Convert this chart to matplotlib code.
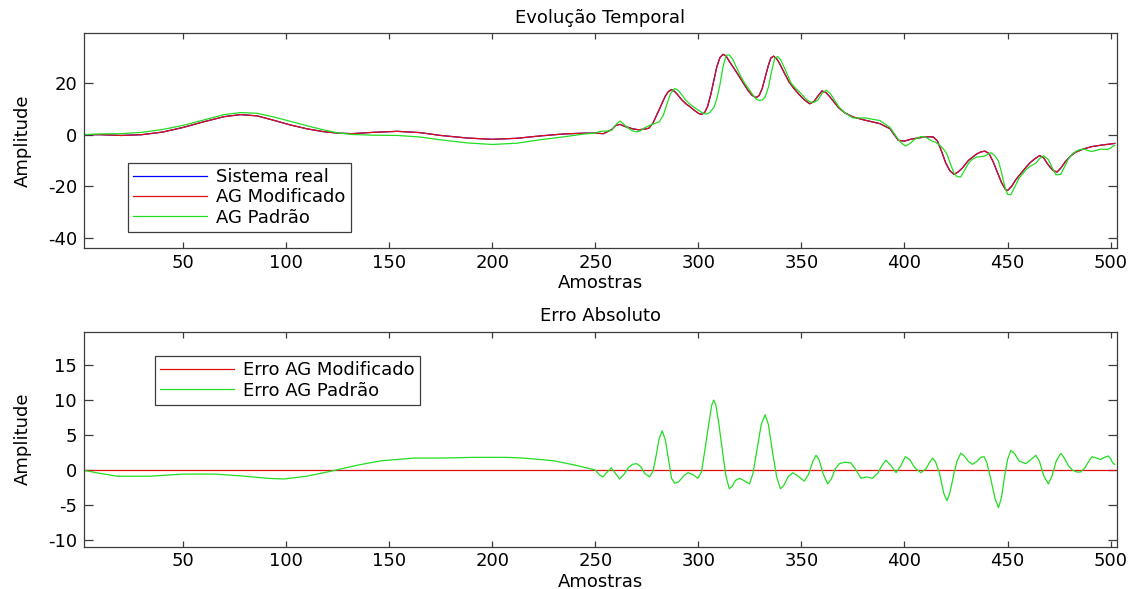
import matplotlib
matplotlib.use('Agg')
import matplotlib.pyplot as plt

# --- data: (amostra, amplitude) --------------------------------------------
sistema_real_pts = [
    (1, 0), (10, 0), (20, -0.3), (30, 0), (40, 1.0), (50, 2.8), (60, 5.0), (70, 7.0),
    (78, 7.8), (86, 7.3), (94, 5.6), (102, 3.8), (110, 2.3), (118, 1.2), (125, 0.6),
    (132, 0.4), (142, 0.9), (154, 1.3), (165, 0.8), (175, -0.3), (188, -1.3), (200, -1.8),
    (212, -1.4), (223, -0.5), (235, 0.3), (245, 0.6), (250, 0.6), (252, 0.5), (254, 0.4),
    (256, 1.2), (258, 2.0), (260, 3.6), (262, 4.0), (264, 3.3), (266, 2.8), (268, 2.3),
    (271, 1.9), (274, 2.2), (276, 2.5), (278, 4.5), (280, 8.0), (282, 11.5), (284, 15.0),
    (285.5, 16.8), (287, 17.5), (288.5, 16.8), (290, 15.5), (292, 13.5), (294, 12.0),
    (296, 10.8), (298, 9.5), (300, 8.3), (301.5, 7.9), (303, 8.5), (304.5, 11.0),
    (306, 15.5), (307.5, 21.0), (309, 26.5), (310.5, 30.0), (312, 31.2), (313.5, 30.5),
    (315, 28.5), (317.5, 25.5), (320, 22.4), (322, 19.8), (324, 17.3), (326, 15.3),
    (328, 14.4), (329.5, 15.2), (331, 18.0), (332.5, 22.5), (334, 27.0), (335.2, 29.8),
    (336.5, 30.5), (338, 29.5), (339.5, 27.5), (342, 23.5), (344, 20.5), (346.5, 17.8),
    (349, 15.5), (351.5, 13.5), (354, 12.0), (356, 12.8), (358, 15.0), (360, 17.0),
    (362, 16.3), (364, 14.5), (366, 12.5), (368, 10.5), (371, 8.5), (375, 6.9),
    (381, 5.6), (388, 4.3), (393, 2.3), (395, 0.0), (397, -2.2), (400, -2.5), (402, -2.0),
    (404, -1.6), (409, -1.0), (412, -0.8), (414, -0.9), (416, -2.5), (418, -6.5),
    (420, -11.0), (422, -14.0), (424, -15.4), (426, -14.5), (428, -13.0), (431, -10.0),
    (435, -7.5), (437, -6.7), (439, -6.4), (441, -7.3), (443, -10.5), (445, -14.5),
    (447, -18.5), (449, -21.3), (450, -21.7), (452, -20.0), (454, -17.5), (456.5, -15.0),
    (459, -12.6), (461, -10.8), (463, -9.5), (465.5, -8.1), (467.5, -9.0), (469.5, -11.5),
    (472, -13.9), (474, -14.5), (476, -12.8), (478, -10.5), (480.5, -8.3), (483, -6.8),
    (487, -5.5), (491, -4.6), (496, -4.0), (501, -3.5), (502, -3.4),
]

ag_padrao_pts = [
    (1, 0), (10, 0.3), (20, 0.4), (30, 0.9), (40, 2.0), (50, 3.6), (60, 5.7), (70, 7.8),
    (78, 8.6), (86, 8.3), (94, 6.9), (102, 5.2), (110, 3.5), (118, 1.9), (125, 0.7),
    (132, 0.1), (142, -0.2), (154, -0.3), (165, -0.9), (175, -2.0), (188, -3.2),
    (200, -3.8), (212, -3.3), (223, -2.0), (235, -0.8), (245, 0.3), (250, 0.6), (252, 1.2),
    (254, 1.4), (256, 1.4), (258, 1.7), (260, 3.9), (262, 5.3), (264, 3.9), (266, 2.5),
    (268, 1.5), (270, 1.1), (272, 1.5), (274, 2.7), (276.4, 3.6), (279, 4.4), (281, 5.0),
    (283, 7.5), (285, 12.5), (286.5, 16.0), (288.5, 17.9), (290, 17.4), (292, 15.5),
    (294, 13.3), (296, 11.8), (298, 10.6), (300, 9.5), (302, 8.5), (304, 8.0),
    (305.5, 8.6), (307.5, 10.5), (309, 14.0), (310.5, 19.5), (312, 26.5), (313.5, 30.9),
    (315, 31.0), (316.5, 29.5), (318, 27.0), (320, 23.6), (322, 20.6), (324, 18.3),
    (326, 16.0), (328, 13.8), (329.6, 13.3), (331, 13.5), (332.4, 14.6), (334, 18.5),
    (335.5, 24.5), (337, 29.5), (338.5, 30.4), (340, 29.0), (342, 25.5), (345, 20.0),
    (347.5, 17.8), (350, 15.8), (352, 14.0), (354, 12.8), (356, 12.5), (358, 13.5),
    (360, 16.0), (362, 17.3), (364, 16.0), (366, 13.5), (368, 11.0), (371, 8.5),
    (375, 6.5), (381, 6.5), (388, 5.5), (393, 2.8), (396, -0.7), (398, -2.9),
    (400.4, -4.4), (402.5, -3.5), (405, -1.8), (408, -0.7), (410.5, -1.1), (413.6, -2.6),
    (415, -2.9), (417, -4.0), (419, -5.7), (420.6, -7.6), (422, -10.7), (424, -14.9),
    (425.5, -16.3), (427.3, -16.4), (429, -14.0), (431, -11.2), (433, -9.5), (435, -8.7),
    (437, -8.5), (438.6, -8.4), (440, -7.8), (442, -7.0), (444, -8.3), (445.6, -10.3),
    (447, -14.5), (448.5, -19.8), (450, -23.2), (451.6, -23.3), (453.5, -20.3),
    (455.5, -17.0), (458.8, -13.7), (461, -12.2), (463.7, -11.1), (465.5, -9.3),
    (467.5, -8.2), (469.8, -9.7), (471.5, -12.6), (473.5, -15.6), (475.8, -15.4),
    (477.5, -12.7), (479.5, -9.4), (481.4, -7.5), (483.5, -6.3), (485.4, -5.7),
    (487.5, -5.7), (489.5, -6.3), (491, -6.5), (493, -6.1), (495.2, -5.6), (497, -5.7),
    (498.8, -5.7), (500, -5.2), (501, -4.5), (502, -4.2),
]

erro_padrao_pts = [
    (1, 0), (8, -0.4), (18, -0.9), (34, -0.9), (50, -0.6), (66, -0.6), (80, -0.9),
    (91, -1.2), (99, -1.3), (110, -0.9), (120, -0.3), (126, 0.1), (135, 0.7), (146, 1.3),
    (162, 1.7), (175, 1.7), (191, 1.8), (207, 1.8), (215, 1.7), (223, 1.5), (230, 1.3),
    (240, 0.7), (250, 0.0), (252, -0.7), (253.7, -1.0), (255.5, -0.4), (257.8, 0.3),
    (259.8, -0.5), (261.8, -1.3), (264, -0.6), (266, 0.3), (268, 0.8), (270, 0.9),
    (272, 0.5), (274, -0.5), (276.4, -1.0), (278, -0.2), (279.5, 2.0), (281, 4.5),
    (282.5, 5.6), (284, 4.3), (285.5, 1.5), (287, -1.2), (288.5, -1.9), (290.5, -1.7),
    (293, -0.8), (295, -0.4), (297.5, -0.7), (299.8, -1.2), (301.5, -0.3), (303, 2.5),
    (305, 6.5), (306.5, 9.3), (307.5, 10.0), (308.5, 9.3), (310, 6.5), (312, 2.0),
    (313.5, -1.0), (315, -2.7), (316.5, -2.3), (318, -1.5), (320, -1.2), (322, -1.5),
    (324.8, -2.0), (326.5, -0.5), (328.5, 3.0), (330.5, 6.5), (332.4, 7.9), (334, 6.5),
    (336, 2.5), (338, -1.0), (339.8, -2.7), (341.5, -2.2), (343.5, -1.0), (345.8, -0.4),
    (348, -0.8), (351.4, -1.6), (353.5, -0.6), (355.5, 1.2), (357.1, 2.1), (358.5, 1.5),
    (360.5, -0.5), (362.7, -2.0), (364.5, -1.3), (366.5, 0.2), (368.4, 0.9), (371, 1.1),
    (374, 1.0), (376.5, 0.0), (378.9, -1.2), (381.5, -1.0), (384.5, -1.2), (387, -0.5),
    (389, 0.6), (391, 1.4), (393.5, 0.6), (395.9, -0.4), (398, 0.5), (400.4, 1.9),
    (402.5, 1.5), (405, 0.3), (408, -0.4), (410.5, 0.2), (412, 1.0), (413.6, 1.7),
    (415, 1.2), (417, -0.5), (419, -3.3), (420.6, -4.4), (422, -3.3), (424, -0.5),
    (425.5, 1.3), (427.3, 2.4), (429, 2.0), (431, 1.2), (433, 0.8), (435, 1.2),
    (437, 1.8), (438.6, 1.9), (440, 1.0), (442, -1.5), (444, -4.2), (445.6, -5.4),
    (447, -4.0), (448.5, -1.0), (450, 1.5), (451.6, 2.8), (453.5, 2.3), (455.5, 1.3),
    (458.8, 0.9), (461, 1.4), (463.7, 2.1), (465.5, 1.2), (467.5, -0.8), (469.8, -2.0),
    (471.5, -0.9), (473.5, 1.2), (475.8, 2.4), (477.5, 1.7), (479.5, 0.6), (481.4, 0.0),
    (483.5, -0.3), (485.4, -0.3), (487.5, 0.3), (489.5, 1.3), (491, 1.9), (493, 1.7),
    (495.2, 1.5), (497, 1.8), (498.8, 2.0), (500, 1.6), (501, 1.0), (502, 0.8),
]

amostras_real, sistema_real = zip(*sistema_real_pts)
# the modified GA sits exactly on the real system (its error is zero)
ag_modificado = list(sistema_real)
amostras_padrao, ag_padrao = zip(*ag_padrao_pts)
amostras_erro, erro_padrao = zip(*erro_padrao_pts)
erro_modificado = [0.0] * len(amostras_erro)

xticks = [50, 100, 150, 200, 250, 300, 350, 400, 450, 500]
yticks_top = [-40, -20, 0, 20]
yticks_bottom = [-10, -5, 0, 5, 10, 15]

# --- style ----------------------------------------------------------------
plt.rcParams['font.family'] = ['DejaVu Sans']
plt.rcParams['font.size'] = 13
plt.rcParams['axes.unicode_minus'] = False

BLUE = '#0000ff'
RED = '#e01010'
GREEN = '#22dd22'
EDGE = '#3c3c3c'


def style_axes(ax, yticks, ylim):
    ax.set_xlim(2, 503)
    ax.set_ylim(*ylim)
    ax.set_xticks(xticks)
    ax.set_yticks(yticks)
    ax.tick_params(axis='both', direction='in', top=True, right=True,
                   color=EDGE, width=0.9, labelsize=13)
    ax.tick_params(axis='x', length=4.3, pad=4)
    ax.tick_params(axis='y', length=6.8, pad=5)
    for s in ax.spines.values():
        s.set_color(EDGE)
        s.set_linewidth(0.9)
    ax.set_xlabel('Amostras', labelpad=2)
    ax.set_ylabel('Amplitude')
    ax.yaxis.set_label_coords(-0.050, 0.5)


fig = plt.figure(figsize=(11.35, 5.89), dpi=100)
ax1 = fig.add_axes([0.074, 0.579, 0.910, 0.365])
ax2 = fig.add_axes([0.074, 0.0718, 0.910, 0.365])

# top: temporal evolution
ax1.plot(amostras_real, sistema_real, color=BLUE, lw=0.9, label='Sistema real')
ax1.plot(amostras_real, ag_modificado, color=RED, lw=0.9, label='AG Modificado')
ax1.plot(amostras_padrao, ag_padrao, color=GREEN, lw=0.9, label='AG Padrão')
style_axes(ax1, yticks_top, (-44, 39.5))
ax1.set_title('Evolução Temporal', fontsize=13, pad=7)
leg = ax1.legend(loc='lower left', bbox_to_anchor=(0.0426, 0.074), borderaxespad=0,
                 fancybox=False, framealpha=1, edgecolor=EDGE, handlelength=4.1,
                 handletextpad=0.5, labelspacing=0.12, borderpad=0.3, fontsize=13)
leg.get_frame().set_linewidth(0.9)

# bottom: absolute error
ax2.plot(amostras_erro, erro_modificado, color=RED, lw=0.9, label='Erro AG Modificado')
ax2.plot(amostras_erro, erro_padrao, color=GREEN, lw=0.9, label='Erro AG Padrão')
style_axes(ax2, yticks_bottom, (-11, 19.8))
ax2.set_title('Erro Absoluto', fontsize=13, pad=8)
leg2 = ax2.legend(loc='upper left', bbox_to_anchor=(0.0687, 0.887), borderaxespad=0,
                  fancybox=False, framealpha=1, edgecolor=EDGE, handlelength=4.1,
                  handletextpad=0.5, labelspacing=0.12, borderpad=0.3, fontsize=13)
leg2.get_frame().set_linewidth(0.9)

fig.savefig('out.png', dpi=100)
